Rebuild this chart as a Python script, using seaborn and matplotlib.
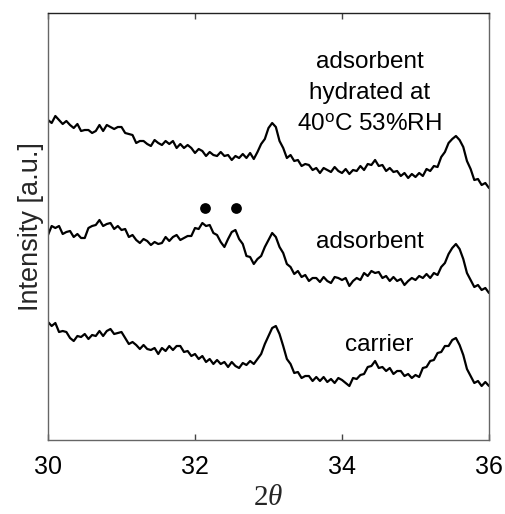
import numpy as np
import pandas as pd
import matplotlib
matplotlib.use("Agg")
import matplotlib.pyplot as plt
import seaborn as sns

# 2-theta grid (degrees), 0.05 step from 30 to 36
two_theta = [round(30 + 0.05 * i, 2) for i in range(121)]

hydrated = [320, 317, 324, 320, 316, 319, 315, 312, 316, 309,
            310, 310, 307, 309, 315, 309, 315, 313, 311, 313,
            313, 307, 306, 305, 297, 299, 299, 296, 294, 300,
            297, 295, 299, 296, 299, 292, 296, 292, 295, 292,
            287, 291, 289, 284, 288, 285, 284, 288, 284, 285,
            280, 284, 282, 286, 282, 287, 281, 288, 296, 301,
            312, 317, 313, 299, 292, 282, 285, 279, 280, 274,
            276, 275, 270, 272, 267, 272, 270, 268, 273, 269,
            267, 271, 266, 270, 269, 274, 270, 276, 275, 280,
            274, 275, 269, 272, 268, 269, 264, 267, 262, 266,
            263, 267, 264, 271, 269, 274, 273, 283, 288, 297,
            301, 304, 300, 293, 279, 271, 260, 261, 255, 257,
            252]

adsorbent = [205, 214, 212, 214, 206, 208, 209, 203, 206, 202,
             202, 212, 214, 215, 220, 214, 216, 217, 211, 214,
             210, 211, 203, 205, 200, 197, 201, 199, 195, 198,
             196, 197, 203, 199, 203, 205, 200, 202, 204, 204,
             212, 211, 217, 214, 215, 207, 205, 198, 193, 201,
             208, 210, 201, 196, 184, 183, 176, 181, 184, 193,
             200, 207, 203, 193, 187, 176, 173, 166, 169, 163,
             165, 159, 162, 162, 158, 163, 159, 157, 163, 162,
             160, 162, 154, 159, 162, 160, 167, 164, 169, 167,
             168, 162, 164, 159, 163, 159, 161, 155, 159, 162,
             160, 164, 162, 166, 162, 167, 165, 173, 177, 186,
             192, 196, 191, 181, 167, 160, 153, 155, 150, 152,
             147]

carrier = [118, 114, 117, 108, 109, 108, 102, 99, 104, 103,
           106, 101, 105, 104, 109, 104, 109, 111, 106, 107,
           108, 102, 96, 98, 95, 91, 95, 91, 90, 92,
           86, 92, 89, 94, 90, 94, 94, 88, 89, 84,
           86, 81, 84, 78, 81, 76, 80, 76, 78, 73,
           78, 74, 72, 77, 75, 79, 76, 81, 86, 96,
           104, 112, 114, 106, 94, 81, 76, 67, 68, 62,
           64, 64, 59, 63, 59, 63, 58, 61, 57, 62,
           60, 57, 54, 62, 61, 65, 66, 73, 74, 79,
           72, 73, 69, 72, 66, 69, 69, 64, 66, 62,
           65, 63, 72, 73, 79, 80, 87, 88, 94, 94,
           100, 102, 95, 85, 71, 64, 57, 59, 54, 58,
           54]

marker_x = [32.14, 32.56]
marker_y = [232, 232]

labels = ["adsorbent\nhydrated at\n40$^{\\mathsf{o}}$C 53%RH", "adsorbent", "carrier"]
label_x = [34.38, 34.38, 34.5]
label_y = [347, 198, 95]

x_ticks = [30, 32, 34, 36]

sns.set_theme(style="white")
plt.rcParams["font.family"] = ["Liberation Sans", "DejaVu Sans"]
plt.rcParams["mathtext.fontset"] = "custom"
plt.rcParams["mathtext.rm"] = "Liberation Serif"
plt.rcParams["mathtext.it"] = "Liberation Serif:italic"
plt.rcParams["mathtext.sf"] = "Liberation Sans"

fig = plt.figure(figsize=(5.05, 5.14), dpi=100)
ax = fig.add_axes([48 / 505, 1 - 440 / 514, (489 - 48) / 505, (440 - 13) / 514])

for series in (hydrated, adsorbent, carrier):
    df = pd.DataFrame({"x": two_theta, "y": series})
    sns.lineplot(data=df, x="x", y="y", ax=ax, color="black", linewidth=1.6,
                 estimator=None, sort=False)

sns.scatterplot(x=marker_x, y=marker_y, ax=ax, color="black", s=60,
                edgecolor="black", linewidth=0, zorder=5)

for txt, tx, ty in zip(labels, label_x, label_y):
    ax.text(tx, ty, txt, ha="center", va="center", fontsize=17.5,
            linespacing=1.5, color="black")

ax.set_xlim(30, 36)
ax.set_ylim(0, 427)
ax.set_xticks(x_ticks)
ax.set_xticklabels([str(t) for t in x_ticks])
ax.set_yticks([])
ax.tick_params(axis="x", direction="in", length=4, width=1, colors="#444444",
               labelsize=18, labelcolor="black", pad=11, top=True, bottom=True)
ax.set_xlabel(r"$2\mathit{\theta}$", fontsize=21, labelpad=3)
ax.set_ylabel("Intensity [a.u.]", fontsize=19.5, labelpad=3)
for name, sp in ax.spines.items():
    sp.set_color("#666666" if name in ("left", "bottom", "right") else "#222222")
    sp.set_linewidth(1.0)

fig.savefig("out.png", dpi=100)
